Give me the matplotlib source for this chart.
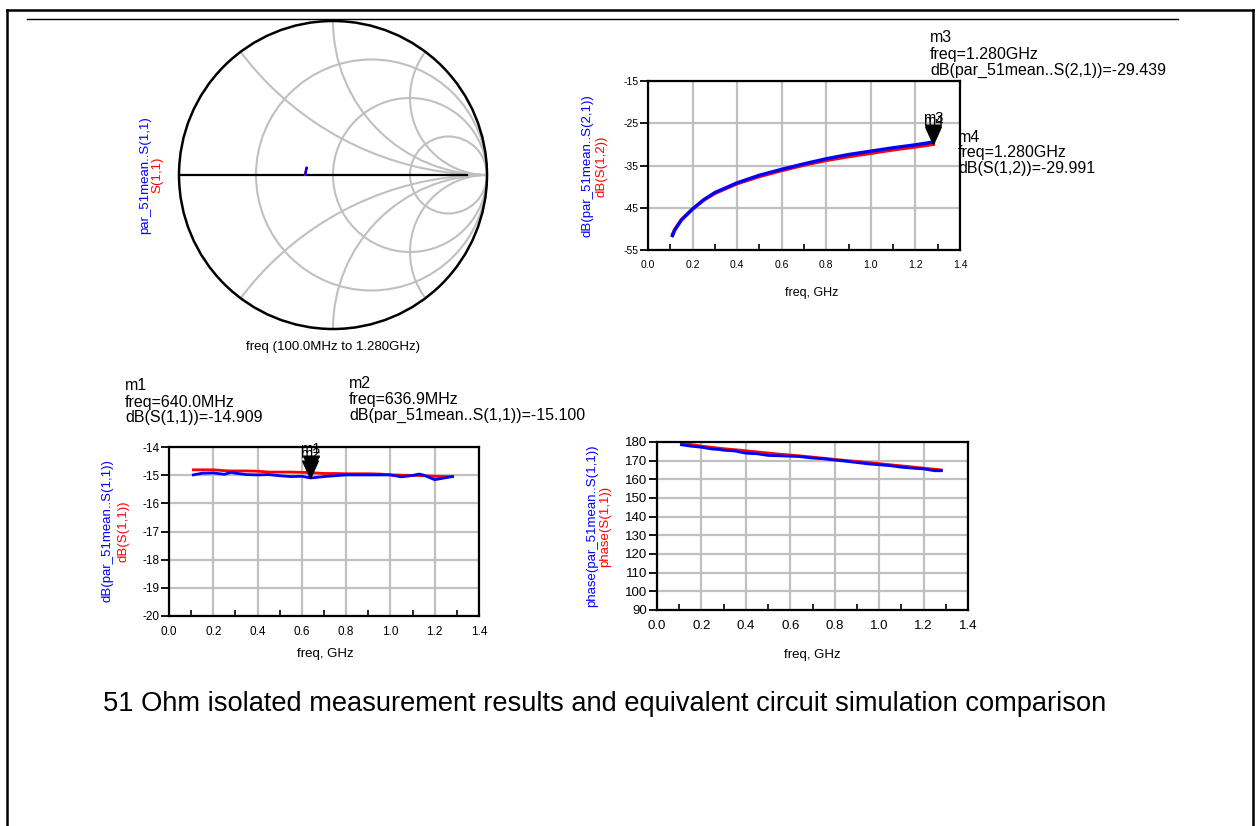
import numpy as np
import matplotlib
matplotlib.use("Agg")
import matplotlib.pyplot as plt
from matplotlib.patches import Circle
from matplotlib.lines import Line2D

plt.rcParams["font.family"] = ["Liberation Sans", "DejaVu Sans"]
plt.rcParams["axes.unicode_minus"] = False

# =========================
# DATA
# =========================
# S(1,1): measured (blue) and simulated (red), freq in GHz
f_s11 = [0.11, 0.15, 0.20, 0.25, 0.28, 0.30, 0.35, 0.40, 0.45, 0.50, 0.55, 0.60, 0.64,
         0.70, 0.75, 0.80, 0.85, 0.90, 0.95, 1.00, 1.05, 1.10, 1.13, 1.15, 1.20, 1.25, 1.28]
s11_meas_db = [-14.99, -14.93, -14.92, -14.97, -14.90, -14.93, -14.98, -14.99, -14.98, -15.02,
               -15.05, -15.04, -15.10, -15.05, -15.02, -14.99, -14.99, -14.99, -14.99, -14.99,
               -15.06, -15.01, -14.96, -15.00, -15.16, -15.09, -15.05]
s11_sim_db = [-14.81, -14.81, -14.81, -14.84, -14.85, -14.85, -14.85, -14.86, -14.89, -14.89,
              -14.89, -14.90, -14.91, -14.94, -14.94, -14.95, -14.95, -14.95, -14.96, -14.99,
              -15.00, -15.01, -15.01, -15.02, -15.04, -15.05, -15.05]
s11_meas_ph = [178.5, 177.8, 177.2, 176.2, 176.0, 175.6, 175.2, 174.0, 173.7, 172.8,
               172.6, 172.4, 172.2, 171.4, 171.0, 170.3, 169.7, 169.0, 168.3, 167.8,
               167.3, 166.5, 166.2, 166.0, 165.6, 164.6, 164.6]
s11_sim_ph = [179.6, 178.7, 177.8, 177.1, 176.7, 176.4, 175.9, 175.3, 174.7, 174.1,
              173.5, 173.0, 172.6, 171.9, 171.3, 170.7, 170.1, 169.6, 169.0, 168.4,
              167.8, 167.2, 166.9, 166.6, 166.0, 165.4, 165.0]

# S(2,1) measured (blue) / S(1,2) simulated (red)
f_s21 = [0.11, 0.12, 0.15, 0.20, 0.25, 0.30, 0.40, 0.50, 0.60, 0.70, 0.80, 0.90, 1.00, 1.10, 1.20, 1.28]
s21_meas_db = [-51.6, -50.3, -47.9, -45.3, -43.1, -41.4, -39.1, -37.3, -35.9, -34.6,
               -33.4, -32.4, -31.6, -30.8, -30.1, -29.44]
s12_sim_db = [-51.3, -50.1, -47.8, -45.3, -43.2, -41.6, -39.3, -37.6, -36.2, -34.9,
              -33.8, -32.9, -32.1, -31.3, -30.6, -29.99]

# markers
m1_f, m1_val = 0.640, -14.909
m2_f, m2_val = 0.6369, -15.100
m3_f, m3_val = 1.280, -29.439
m4_f, m4_val = 1.280, -29.991

# smith chart grid
r_circles = [1 / 3, 1.0, 3.0]
x_arcs = [0.5, 1.0, 2.0]

caption = "51 Ohm isolated measurement results and equivalent circuit simulation comparison"

W, H = 1256, 826
BLUE = "#0000ff"
RED = "#ff0000"
GRAY = "#c0c0c0"

fig = plt.figure(figsize=(W / 100, H / 100), dpi=100)


def fx(x):
    return x / W


def fy(y):
    return 1 - y / H


def box(l, t, r, b):
    return [l / W, 1 - b / H, (r - l) / W, (b - t) / H]


TRI = [(0, 0), (-0.45, 1), (0.45, 1), (0, 0)]


def rect_plot(b, ylim, yticks, tick_fs):
    ax = fig.add_axes(box(*b))
    ax.set_xlim(0, 1.4)
    ax.set_ylim(*ylim)
    ax.set_xticks(np.arange(0, 1.41, 0.2))
    ax.set_xticklabels([f"{v:.1f}" for v in np.arange(0, 1.41, 0.2)])
    ax.set_xticks(np.arange(0.1, 1.4, 0.2), minor=True)
    ax.set_yticks(yticks)
    ax.grid(True, which="major", color=GRAY, lw=1.6)
    ax.tick_params(axis="x", which="major", length=0, pad=7, labelsize=tick_fs)
    ax.tick_params(axis="x", which="minor", direction="in", length=4, width=1.2)
    ax.tick_params(axis="y", which="major", direction="out", length=6, width=1.3,
                   pad=1, labelsize=tick_fs)
    for s in ax.spines.values():
        s.set_linewidth(1.6)
        s.set_zorder(5)
    ax.set_axisbelow(True)
    return ax


def ylabels(x_blue, x_red, yc, blue_txt, red_txt, fs=9.5):
    fig.text(fx(x_blue), fy(yc), blue_txt, color=BLUE, rotation=90,
             ha="center", va="center", fontsize=fs)
    fig.text(fx(x_red), fy(yc), red_txt, color=RED, rotation=90,
             ha="center", va="center", fontsize=fs)


def marker(ax, f, v, name):
    ax.plot([f], [v], marker=TRI, ms=25, color="black", zorder=6, clip_on=False)
    ax.annotate(name, (f, v), xytext=(0, 17), textcoords="offset points",
                ha="center", va="center", fontsize=10.5, zorder=7)


def marker_text(x, y, lines, fs=11.5, step=16):
    for i, ln in enumerate(lines):
        fig.text(fx(x), fy(y + i * step), ln, ha="left", va="center", fontsize=fs)


# ---------- frame ----------
lw_frame = 1.8
fig.add_artist(Line2D([fx(7), fx(7)], [fy(10), fy(830)], color="black", lw=lw_frame))
fig.add_artist(Line2D([fx(7), fx(1253)], [fy(10), fy(10)], color="black", lw=lw_frame))
fig.add_artist(Line2D([fx(1253), fx(1253)], [fy(10), fy(830)], color="black", lw=lw_frame))
fig.add_artist(Line2D([fx(27), fx(1178)], [fy(19), fy(19)], color="black", lw=1.0))

# ---------- smith chart ----------
cx, cy, rad = 333, 175, 154
pad = 1.06
axs = fig.add_axes(box(cx - rad * pad, cy - rad * pad, cx + rad * pad, cy + rad * pad))
axs.set_xlim(-pad, pad)
axs.set_ylim(-pad, pad)
axs.set_aspect("equal")
axs.axis("off")
unit = Circle((0, 0), 1, fill=False, ec="black", lw=1.8, zorder=4)
axs.add_patch(unit)
clip = Circle((0, 0), 1, transform=axs.transData)
for r in r_circles:
    axs.add_patch(Circle((r / (1 + r), 0), 1 / (1 + r), fill=False, ec=GRAY, lw=1.5))
for xv in x_arcs:
    for sgn in (1, -1):
        c = Circle((1, sgn / xv), 1 / xv, fill=False, ec=GRAY, lw=1.5)
        axs.add_patch(c)
        c.set_clip_path(clip)
axs.plot([-1, 0.87], [0, 0], color="black", lw=1.6, zorder=3)
axs.plot([0.87, 1], [0, 0], color=GRAY, lw=1.5, zorder=2)
g_sim = 10 ** (np.array(s11_sim_db) / 20) * np.exp(1j * np.deg2rad(s11_sim_ph))
g_meas = 10 ** (np.array(s11_meas_db) / 20) * np.exp(1j * np.deg2rad(s11_meas_ph))
axs.plot(g_sim.real, g_sim.imag, color=RED, lw=1.6, zorder=5)
axs.plot(g_meas.real, g_meas.imag, color=BLUE, lw=1.6, zorder=6)
ylabels(145, 157, 175, "par_51mean..S(1,1)", "S(1,1)")
fig.text(fx(333), fy(347), "freq (100.0MHz to 1.280GHz)", ha="center", va="center", fontsize=9.5)

# ---------- S21 / S12 ----------
b21 = (648, 81, 960, 250)
ax1 = rect_plot(b21, (-55, -15), [-55, -45, -35, -25, -15], 7.5)
ax1.plot(f_s21, s12_sim_db, color=RED, lw=2.4)
ax1.plot(f_s21, s21_meas_db, color=BLUE, lw=2.4)
marker(ax1, m4_f, m4_val, "m4")
marker(ax1, m3_f, m3_val, "m3")
ylabels(588, 602, 166, "dB(par_51mean..S(2,1))", "dB(S(1,2))")
fig.text(fx(812), fy(293), "freq, GHz", ha="center", va="center", fontsize=9)
marker_text(930, 38, ["m3", "freq=1.280GHz", "dB(par_51mean..S(2,1))=-29.439"])
marker_text(958, 137, ["m4", "freq=1.280GHz", "dB(S(1,2))=-29.991"])

# ---------- S11 dB ----------
b11 = (169, 447, 479, 616)
ax2 = rect_plot(b11, (-20, -14), [-20, -19, -18, -17, -16, -15, -14], 8.5)
ax2.plot(f_s11, s11_sim_db, color=RED, lw=2)
ax2.plot(f_s11, s11_meas_db, color=BLUE, lw=2)
marker(ax2, m2_f, m2_val, "m2")
marker(ax2, m1_f, m1_val, "m1")
ylabels(108, 123, 531, "dB(par_51mean..S(1,1))", "dB(S(1,1))")
fig.text(fx(325), fy(654), "freq, GHz", ha="center", va="center", fontsize=9.5)
marker_text(125, 386, ["m1", "freq=640.0MHz", "dB(S(1,1))=-14.909"])
marker_text(349, 383, ["m2", "freq=636.9MHz", "dB(par_51mean..S(1,1))=-15.100"])

# ---------- S11 phase ----------
bph = (657, 442, 968, 610)
ax3 = rect_plot(bph, (90, 180), list(range(90, 181, 10)), 9.5)
ax3.plot(f_s11, s11_sim_ph, color=RED, lw=2)
ax3.plot(f_s11, s11_meas_ph, color=BLUE, lw=2)
ylabels(592, 605, 526, "phase(par_51mean..S(1,1))", "phase(S(1,1))")
fig.text(fx(812), fy(655), "freq, GHz", ha="center", va="center", fontsize=9.5)

# ---------- caption ----------
fig.text(fx(103), fy(704), caption, ha="left", va="center", fontsize=19.6)

fig.savefig("out.png", dpi=100)
